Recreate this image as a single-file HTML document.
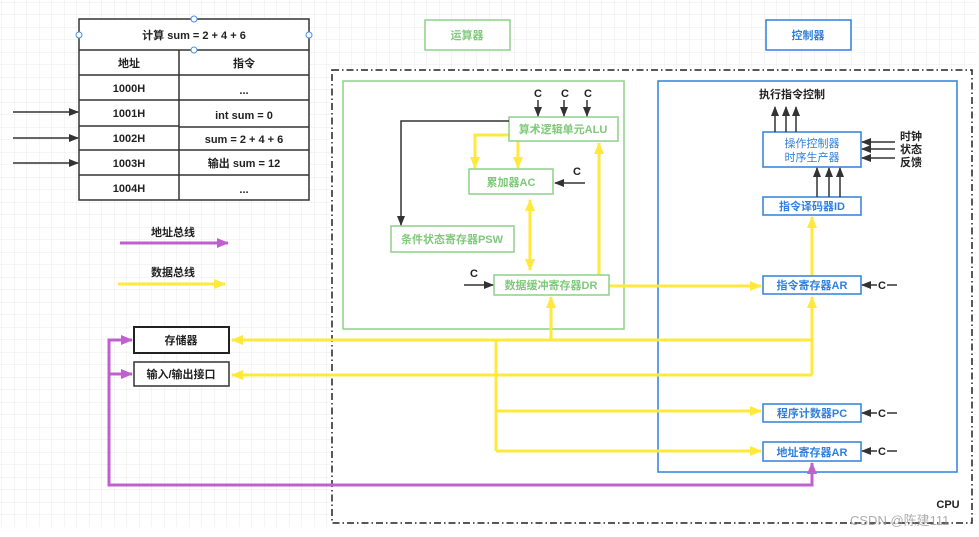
<!DOCTYPE html>
<html><head><meta charset="utf-8"><style>
html,body{margin:0;padding:0;background:#fff;}
svg{display:block;font-family:"Liberation Sans","Noto Sans CJK SC",sans-serif;}
</style></head><body>
<svg width="979" height="537" viewBox="0 0 979 537" xmlns="http://www.w3.org/2000/svg">
<defs>
<pattern id="g" x="2" y="2.5" width="12.5" height="12.5" patternUnits="userSpaceOnUse">
<path d="M12.5 0V12.5M0 12.5H12.5" stroke="#ebebeb" stroke-width="1" fill="none"/>
</pattern>
<marker id="ab" markerWidth="10" markerHeight="8" refX="9" refY="4" orient="auto" markerUnits="userSpaceOnUse"><path d="M0,0L10,4L0,8z" fill="#333"/></marker>
<marker id="ay" markerWidth="12" markerHeight="10" refX="11" refY="5" orient="auto" markerUnits="userSpaceOnUse"><path d="M0,0L12,5L0,10z" fill="#ffe93b"/></marker>
<marker id="ays" markerWidth="12" markerHeight="10" refX="1" refY="5" orient="auto" markerUnits="userSpaceOnUse"><path d="M12,0L0,5L12,10z" fill="#ffe93b"/></marker>
<marker id="ap" markerWidth="12" markerHeight="10" refX="11" refY="5" orient="auto" markerUnits="userSpaceOnUse"><path d="M0,0L12,5L0,10z" fill="#c060d0"/></marker>
</defs>
<rect x="0" y="0" width="976" height="527" fill="url(#g)"/>

<!-- table -->
<g stroke="#333" stroke-width="1.5" fill="#fff">
<rect x="79" y="19" width="230" height="181"/>
<line x1="79" y1="50" x2="309" y2="50"/>
<line x1="179" y1="50" x2="179" y2="200"/>
<line x1="79" y1="75" x2="309" y2="75"/>
<line x1="79" y1="100" x2="309" y2="100"/>
<line x1="79" y1="126" x2="179" y2="126"/>
<line x1="179" y1="127" x2="309" y2="127"/>
<line x1="79" y1="150" x2="309" y2="150"/>
<line x1="79" y1="175" x2="309" y2="175"/>
</g>
<g fill="#fff" stroke="#4a90e2" stroke-width="1"><circle cx="194" cy="19" r="3"/><circle cx="194" cy="50" r="3"/><circle cx="79" cy="35" r="3"/><circle cx="309" cy="35" r="3"/></g>
<g font-size="11" fill="#222" text-anchor="middle" font-weight="bold">
<text x="194" y="39">计算 sum = 2 + 4 + 6</text>
<text x="129" y="67">地址</text><text x="244" y="67">指令</text>
<text x="129" y="92">1000H</text><text x="244" y="94">...</text>
<text x="129" y="117">1001H</text><text x="244" y="119">int sum = 0</text>
<text x="129" y="142">1002H</text><text x="244" y="143">sum = 2 + 4 + 6</text>
<text x="129" y="167">1003H</text><text x="244" y="167">输出 sum = 12</text>
<text x="129" y="192">1004H</text><text x="244" y="193">...</text>
</g>
<g stroke="#333" stroke-width="1.5" marker-end="url(#ab)">
<line x1="13" y1="112" x2="78" y2="112"/><line x1="13" y1="138" x2="78" y2="138"/><line x1="13" y1="163" x2="78" y2="163"/>
</g>

<!-- legend -->
<text x="173" y="236" font-size="11" fill="#222" text-anchor="middle" font-weight="bold">地址总线</text>
<line x1="120" y1="243" x2="228" y2="243" stroke="#c060d0" stroke-width="3" marker-end="url(#ap)"/>
<text x="173" y="276" font-size="11" fill="#222" text-anchor="middle" font-weight="bold">数据总线</text>
<line x1="118" y1="284" x2="225" y2="284" stroke="#ffe93b" stroke-width="3" marker-end="url(#ay)"/>

<!-- top labels -->
<rect x="425" y="20" width="85" height="30" fill="#fff" stroke="#8fd18b" stroke-width="1.5"/>
<text x="467" y="39" font-size="11" fill="#7fc97a" text-anchor="middle" font-weight="bold">运算器</text>
<rect x="766" y="20" width="85" height="30" fill="#fff" stroke="#2f80de" stroke-width="1.5"/>
<text x="808" y="39" font-size="11" fill="#2f80de" text-anchor="middle" font-weight="bold">控制器</text>

<!-- CPU -->
<rect x="332" y="70" width="640" height="453" fill="#fff" stroke="#222" stroke-width="1.5" stroke-dasharray="7,3,1.5,3"/>
<text x="948" y="508" font-size="11" fill="#222" text-anchor="middle" font-weight="bold">CPU</text>
<rect x="343" y="81" width="281" height="248" fill="none" stroke="#8fd18b" stroke-width="1.5"/>
<rect x="658" y="81" width="299" height="391" fill="none" stroke="#2f80de" stroke-width="1.5"/>

<!-- yellow bus lines -->
<g stroke="#ffe93b" stroke-width="3" fill="none">
<line x1="812" y1="340" x2="232" y2="340" marker-end="url(#ay)"/>
<line x1="812" y1="375" x2="232" y2="375" marker-end="url(#ay)"/>
<line x1="812" y1="375" x2="812" y2="297" marker-end="url(#ay)"/>
<line x1="496" y1="340" x2="496" y2="451"/>
<line x1="496" y1="411" x2="761" y2="411" marker-end="url(#ay)"/>
<line x1="496" y1="451" x2="761" y2="451" marker-end="url(#ay)"/>
<line x1="551" y1="340" x2="551" y2="297" marker-end="url(#ay)"/>
<line x1="609" y1="286" x2="761" y2="286" marker-end="url(#ay)"/>
<line x1="812" y1="276" x2="812" y2="217" marker-end="url(#ay)"/>
<line x1="599" y1="275" x2="599" y2="143" marker-end="url(#ay)"/>
<polyline points="510,135 475,135 475,168" marker-end="url(#ay)"/>
<line x1="518" y1="141" x2="518" y2="168" marker-end="url(#ay)"/>
<line x1="530" y1="200" x2="530" y2="270" marker-start="url(#ays)" marker-end="url(#ay)"/>
</g>
<!-- purple -->
<g stroke="#c060d0" stroke-width="3" fill="none">
<polyline points="812,470 812,485 109,485 109,340 132,340" marker-end="url(#ap)"/>
<line x1="109" y1="374" x2="132" y2="374" marker-end="url(#ap)"/>
<line x1="812" y1="478" x2="812" y2="463" marker-end="url(#ap)"/>
</g>

<!-- memory boxes -->
<rect x="134" y="327" width="95" height="26" fill="#fff" stroke="#222" stroke-width="2"/>
<text x="181" y="344" font-size="11" fill="#222" text-anchor="middle" font-weight="bold">存储器</text>
<rect x="134" y="362" width="95" height="24" fill="#fff" stroke="#333" stroke-width="1.5"/>
<text x="181" y="378" font-size="11" fill="#222" text-anchor="middle" font-weight="bold">输入/输出接口</text>

<!-- ALU unit -->
<g fill="#fff" stroke="#8fd18b" stroke-width="1.5">
<rect x="509" y="117" width="109" height="24"/>
<rect x="469" y="169" width="84" height="25"/>
<rect x="391" y="226" width="123" height="26"/>
<rect x="494" y="275" width="115" height="20"/>
</g>
<g font-size="11" fill="#7fc97a" text-anchor="middle" font-weight="bold">
<text x="563" y="133">算术逻辑单元ALU</text>
<text x="511" y="186">累加器AC</text>
<text x="452" y="243">条件状态寄存器PSW</text>
<text x="551" y="289">数据缓冲寄存器DR</text>
</g>
<g stroke="#333" stroke-width="1.5" fill="none" marker-end="url(#ab)">
<line x1="538" y1="100" x2="538" y2="116"/>
<line x1="564" y1="100" x2="564" y2="116"/>
<line x1="587" y1="100" x2="587" y2="116"/>
<line x1="585" y1="183" x2="555" y2="183"/>
<line x1="464" y1="285" x2="493" y2="285"/>
<polyline points="509,121 401,121 401,225"/>
</g>
<g font-size="11" fill="#222" text-anchor="middle" font-weight="bold">
<text x="538" y="97">C</text><text x="565" y="97">C</text><text x="588" y="97">C</text>
<text x="577" y="175">C</text><text x="474" y="277">C</text>
</g>

<!-- controller -->
<g fill="#fff" stroke="#2f80de" stroke-width="1.5">
<rect x="763" y="132" width="98" height="35"/>
<rect x="763" y="197" width="98" height="18"/>
<rect x="763" y="276" width="98" height="18"/>
<rect x="763" y="404" width="98" height="18"/>
<rect x="763" y="442" width="98" height="19"/>
</g>
<g font-size="11" fill="#2f80de" text-anchor="middle">
<text x="812" y="147">操作控制器</text>
<text x="812" y="161">时序生产器</text>
</g>
<g font-size="11" fill="#2f80de" text-anchor="middle" font-weight="bold">
<text x="812" y="210">指令译码器ID</text>
<text x="812" y="289">指令寄存器AR</text>
<text x="812" y="417">程序计数器PC</text>
<text x="812" y="456">地址寄存器AR</text>
</g>
<text x="792" y="98" font-size="11" fill="#222" text-anchor="middle" font-weight="bold">执行指令控制</text>
<g stroke="#333" stroke-width="1.5" marker-end="url(#ab)">
<line x1="775" y1="132" x2="775" y2="107"/><line x1="786" y1="132" x2="786" y2="107"/><line x1="796" y1="132" x2="796" y2="107"/>
<line x1="817" y1="197" x2="817" y2="168"/><line x1="829" y1="197" x2="829" y2="168"/><line x1="840" y1="197" x2="840" y2="168"/>
<line x1="895" y1="142" x2="862" y2="142"/><line x1="895" y1="149" x2="862" y2="149"/><line x1="895" y1="158" x2="862" y2="158"/>
<line x1="877" y1="285" x2="862" y2="285"/><line x1="877" y1="413" x2="862" y2="413"/><line x1="877" y1="451" x2="862" y2="451"/>
<line x1="887" y1="285" x2="897" y2="285" marker-end="none"/>
<line x1="887" y1="413" x2="897" y2="413" marker-end="none"/>
<line x1="887" y1="451" x2="897" y2="451" marker-end="none"/>
</g>
<g font-size="11" fill="#222" font-weight="bold">
<text x="878" y="289">C</text><text x="878" y="417">C</text><text x="878" y="455">C</text>
</g>
<g font-size="11" fill="#222" font-weight="bold">
<text x="900" y="140">时钟</text><text x="900" y="153">状态</text><text x="900" y="166">反馈</text>
</g>
<text x="850" y="525" font-size="13" fill="#999" fill-opacity="0.8">CSDN @陈建111</text>
</svg>
</body></html>
